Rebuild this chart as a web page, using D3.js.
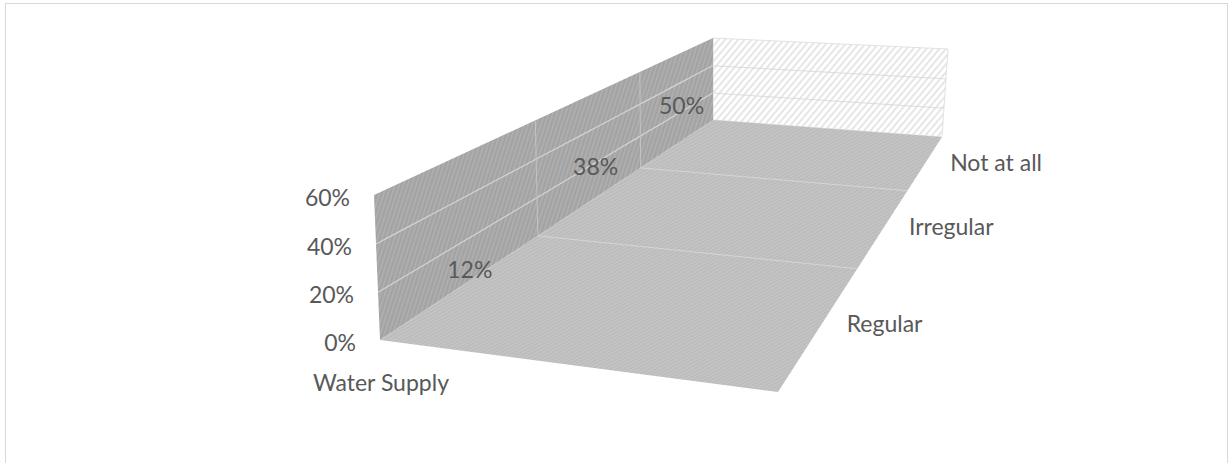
<!DOCTYPE html>
<html>
<head>
<meta charset="utf-8">
<script src="https://cdn.jsdelivr.net/npm/d3@7"></script>
<style>
  html, body { margin: 0; padding: 0; background: #fff; }
  svg { display: block; }
  text { font-family: Lato, "Open Sans", sans-serif; fill: #595959; }
</style>
</head>
<body>
<svg id="chart" width="1229" height="463"></svg>
<script>
// ---- data ----
const categories = ["Regular", "Irregular", "Not at all"];
const values = [12, 38, 50];           // percent, Water Supply
const seriesName = "Water Supply";
const tickValues = [0, 20, 40, 60];
const tickLabels = ["0%", "20%", "40%", "60%"];

// ---- projective helpers (unit square -> quad) ----
function homography(q) {
  const [x0, y0] = q[0], [x1, y1] = q[1], [x2, y2] = q[2], [x3, y3] = q[3];
  const dx1 = x1 - x2, dx2 = x3 - x2, dx3 = x0 - x1 + x2 - x3;
  const dy1 = y1 - y2, dy2 = y3 - y2, dy3 = y0 - y1 + y2 - y3;
  const den = dx1 * dy2 - dx2 * dy1;
  const g = (dx3 * dy2 - dx2 * dy3) / den;
  const h = (dx1 * dy3 - dx3 * dy1) / den;
  const a = x1 - x0 + g * x1, b = x3 - x0 + h * x3, c = x0;
  const d = y1 - y0 + g * y1, e = y3 - y0 + h * y3, f = y0;
  return (u, v) => {
    const w = g * u + h * v + 1;
    return [(a * u + b * v + c) / w, (d * u + e * v + f) / w];
  };
}

// corners of the 3D box as seen on screen
const P = {
  fl0: [380, 340], fr0: [778, 392], br0: [942, 137], bl0: [713, 120],
  fl1: [374, 195], bl1: [713, 38], br1: [948, 49]
};
const floor = homography([P.fl0, P.fr0, P.br0, P.bl0]);      // (width, depth)
const leftWall = homography([P.fl0, P.bl0, P.bl1, P.fl1]);   // (depth, height)
const backWall = homography([P.bl0, P.br0, P.br1, P.bl1]);   // (width, height)

// ---- scales ----
const yScale = d3.scaleLinear().domain([0, 60]).range([0, 1]);
const depth = d3.scaleBand().domain(categories).range([0, 1]);

const svg = d3.select("#chart");
const defs = svg.append("defs");

function stripePattern(id, size, angle, bg, fg, sw) {
  const p = defs.append("pattern").attr("id", id)
    .attr("patternUnits", "userSpaceOnUse")
    .attr("width", size).attr("height", size)
    .attr("patternTransform", `rotate(${angle})`);
  p.append("rect").attr("width", size).attr("height", size).attr("fill", bg);
  p.append("rect").attr("width", sw).attr("height", size).attr("fill", fg);
}
stripePattern("wallPat", 4, 18, "#a3a3a3", "#b0b0b0", 1.6);
stripePattern("floorPat", 3, 62, "#c4c4c4", "#b9b9b9", 1.2);
stripePattern("backPat", 5, 40, "#ffffff", "#e6e6e6", 2);

// chart border
svg.append("rect").attr("x", 5.5).attr("y", 3.5).attr("width", 1222).attr("height", 470)
  .attr("fill", "none").attr("stroke", "#d9d9d9");

const line = d3.line();
function sampled(fn, a0, b0, a1, b1, n = 20) {
  return d3.range(n + 1).map(i => fn(a0 + (a1 - a0) * i / n, b0 + (b1 - b0) * i / n));
}
function quad(fn) {
  return [fn(0, 0), fn(1, 0), fn(1, 1), fn(0, 1)];
}

// ---- walls & floor ----
svg.append("path").attr("d", line(quad(backWall)) + "Z")
  .attr("fill", "url(#backPat)").attr("stroke", "#e2e2e2");
svg.append("path").attr("d", line(quad(leftWall)) + "Z")
  .attr("fill", "url(#wallPat)");
svg.append("path").attr("d", line(quad(floor)) + "Z")
  .attr("fill", "url(#floorPat)");

// horizontal gridlines on walls
const g = svg.append("g").attr("fill", "none");
tickValues.slice(1, -1).forEach(t => {
  const v = yScale(t);
  g.append("path").attr("d", line(sampled(leftWall, 0, v, 1, v)))
    .attr("stroke", "#d4d4d4").attr("stroke-width", 1.2);
  g.append("path").attr("d", line(sampled(backWall, 0, v, 1, v)))
    .attr("stroke", "#dcdcdc").attr("stroke-width", 1);
});
// category dividers on left wall and floor
categories.slice(1).forEach(c => {
  const d = depth(c);
  g.append("path").attr("d", line(sampled(leftWall, d, 0, d, 1)))
    .attr("stroke", "#c4c4c4").attr("stroke-width", 1);
  g.append("path").attr("d", line(sampled(floor, 0, d, 1, d)))
    .attr("stroke", "#d6d6d6").attr("stroke-width", 1);
});

// ---- value axis labels ----
const fs = 23;
tickValues.forEach((t, i) => {
  const [x, y] = leftWall(0, yScale(t));
  svg.append("text").attr("x", x - 24).attr("y", y + 2)
    .attr("text-anchor", "end").attr("dominant-baseline", "central")
    .attr("font-size", fs).text(tickLabels[i]);
});

// series (front) label
{
  const [x, y] = floor(0, 0);
  svg.append("text").attr("x", x + 1).attr("y", y + 42)
    .attr("text-anchor", "middle").attr("dominant-baseline", "central")
    .attr("font-size", fs).text(seriesName);
}

// category (depth) labels
categories.forEach(c => {
  const [x, y] = floor(1, depth(c) + depth.bandwidth() / 2);
  svg.append("text").attr("x", x + 24).attr("y", y)
    .attr("text-anchor", "start").attr("dominant-baseline", "central")
    .attr("font-size", fs).text(c);
});

// data labels (bars themselves have no fill)
categories.forEach((c, i) => {
  const [x, y] = leftWall(depth(c) + depth.bandwidth() / 2, yScale(values[i] / 2));
  svg.append("text").attr("x", x + 2).attr("y", y)
    .attr("text-anchor", "middle").attr("dominant-baseline", "central")
    .attr("font-size", fs).text(values[i] + "%");
});
</script>
</body>
</html>
